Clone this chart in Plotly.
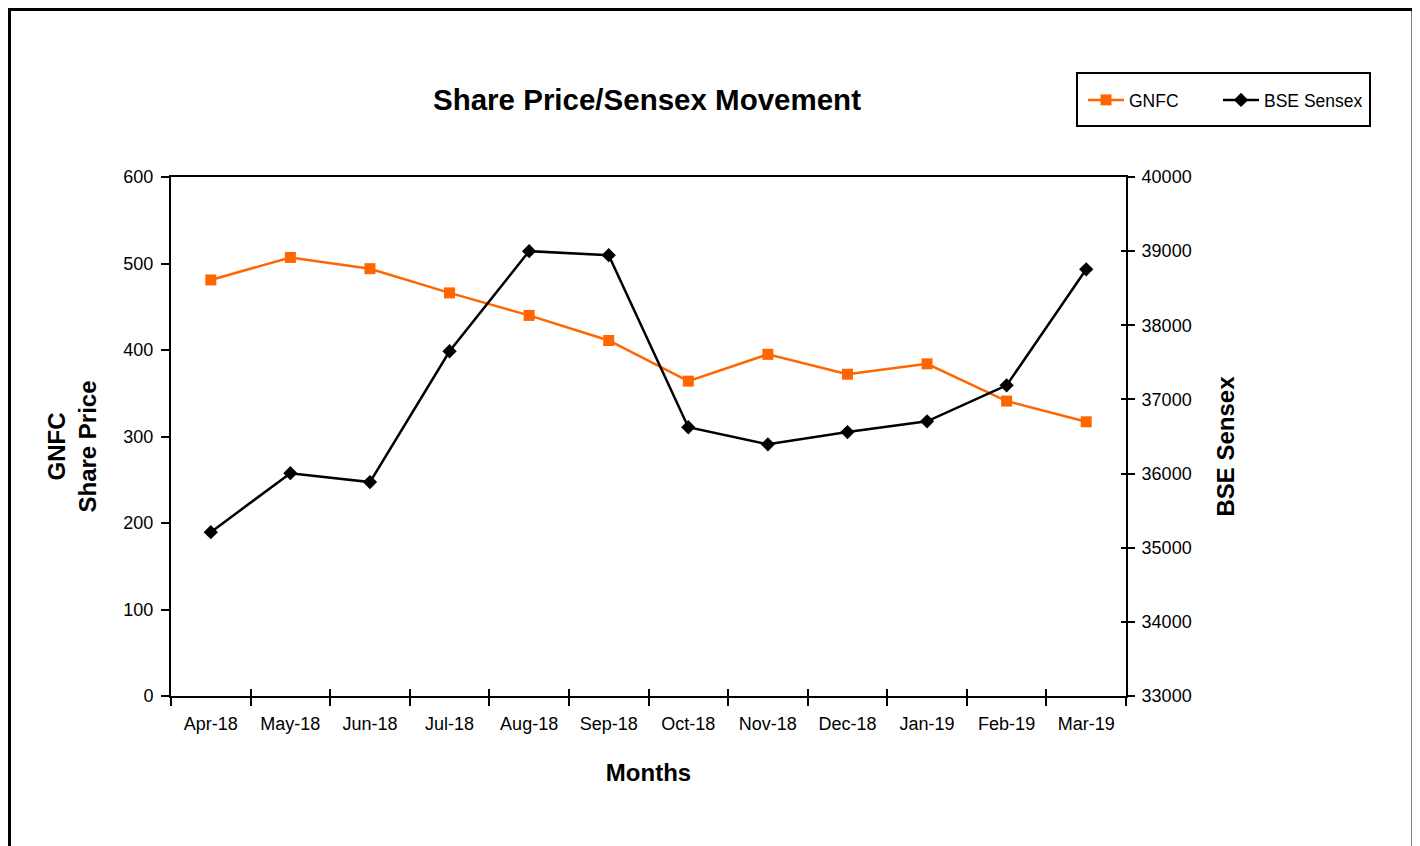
import plotly.graph_objects as go

months = ["Apr-18", "May-18", "Jun-18", "Jul-18", "Aug-18", "Sep-18",
          "Oct-18", "Nov-18", "Dec-18", "Jan-19", "Feb-19", "Mar-19"]
gnfc = [481, 507, 494, 466, 440, 411, 364, 395, 372, 384, 341, 317]
sensex = [35210, 36005, 35885, 37650, 39000, 38945, 36625, 36395, 36560, 36705, 37190, 38755]

OFF = 8  # page body margin
W, H = 1420 - OFF, 846 - OFF
L, R, T, B = 171, 1126, 177, 696  # plot area in window pixels


def px(x):
    return (x - L) / (R - L)


def py(y):
    return (B - y) / (B - T)


FONT = "Liberation Sans, Arial, sans-serif"
SP = "&nbsp;" * 3

fig = go.Figure()
fig.add_trace(go.Scatter(
    x=months, y=gnfc, name="GNFC", mode="lines+markers",
    line=dict(color="#FF6600", width=2.5),
    marker=dict(symbol="square", size=11, color="#FF6600"),
    xaxis="x", yaxis="y", legend="legend",
))
fig.add_trace(go.Scatter(
    x=months, y=sensex, name="BSE Sensex", mode="lines+markers",
    line=dict(color="#000000", width=2.5),
    marker=dict(symbol="diamond", size=11, color="#000000"),
    xaxis="x2", yaxis="y2", legend="legend2",
))
# carrier trace so the inside-tick overlay axis is drawn
fig.add_trace(go.Scatter(
    x=months, y=sensex, mode="markers", marker=dict(opacity=0, size=1),
    showlegend=False, hoverinfo="skip", xaxis="x2", yaxis="y3",
))

axfont = dict(family=FONT, size=18, color="#000")
titlefont = dict(family=FONT, size=24, color="#000")
legfont = dict(family=FONT, size=17.5, color="#000")

fig.update_layout(
    width=W, height=H,
    margin=dict(l=L - OFF, r=W - (R - OFF), t=T - OFF, b=H - (B - OFF)),
    paper_bgcolor="white", plot_bgcolor="white",
    showlegend=True,
    title=dict(text="<b>Share Price/Sensex Movement</b>", x=(647 - OFF) / W, xanchor="center",
               y=1 - (100 - OFF) / H, yanchor="middle",
               font=dict(family=FONT, size=29.5, color="#000")),
    xaxis=dict(
        type="category", categoryorder="array", categoryarray=months,
        range=[-0.5, 11.5], tickson="boundaries", ticks="outside", ticklen=8,
        tickwidth=1.5, tickcolor="#000", showline=True, linecolor="#000", linewidth=2,
        showgrid=False, zeroline=False, tickfont=axfont, mirror=True,
        ticklabelstandoff=10,
        title=dict(text="<b>Months</b>", font=titlefont, standoff=32),
    ),
    xaxis2=dict(
        type="category", categoryorder="array", categoryarray=months,
        range=[-0.5, 11.5], tickson="boundaries", ticks="inside", ticklen=7,
        tickwidth=1.5, tickcolor="#000", showline=False, showgrid=False,
        zeroline=False, showticklabels=False, overlaying="x", anchor="y2", side="bottom",
    ),
    yaxis=dict(
        range=[0, 600], tickvals=[0, 100, 200, 300, 400, 500, 600],
        ticks="outside", ticklen=8, tickwidth=1.5, tickcolor="#000",
        showline=True, linecolor="#000", linewidth=2, showgrid=False, zeroline=False,
        tickfont=axfont, mirror=True, ticklabelstandoff=4,
        title=dict(text=f"<b>GNFC{SP}<br>Share Price{SP}</b>", font=titlefont, standoff=20),
    ),
    yaxis2=dict(
        range=[33000, 40000], tickvals=list(range(33000, 40001, 1000)), tickformat="d",
        overlaying="y", side="right", anchor="x2",
        ticks="outside", ticklen=7, tickwidth=1.5, tickcolor="#000",
        showline=True, linecolor="#000", linewidth=2, showgrid=False, zeroline=False,
        tickfont=axfont, ticklabelstandoff=3,
        title=dict(text=f"<b>BSE Sensex{SP}</b>", font=titlefont, standoff=27),
    ),
    yaxis3=dict(
        range=[33000, 40000], tickvals=list(range(33000, 40001, 1000)),
        overlaying="y", side="right", anchor="x2",
        ticks="inside", ticklen=5, tickwidth=1.5, tickcolor="#000",
        showline=False, showgrid=False, zeroline=False, showticklabels=False,
    ),
    legend=dict(
        orientation="h", x=px(1083), xanchor="left", y=py(100), yanchor="middle",
        font=legfont, bgcolor="rgba(0,0,0,0)", borderwidth=0, itemwidth=36,
    ),
    legend2=dict(
        orientation="h", x=px(1218), xanchor="left", y=py(100), yanchor="middle",
        font=legfont, bgcolor="rgba(0,0,0,0)", borderwidth=0, itemwidth=36,
    ),
    shapes=[
        dict(type="rect", xref="paper", yref="paper",
             x0=px(1077), x1=px(1370), y0=py(126), y1=py(73),
             line=dict(color="#000", width=2), fillcolor="rgba(0,0,0,0)", layer="above"),
        dict(type="rect", xref="paper", yref="paper",
             x0=px(OFF + 1.5), x1=px(1413), y0=py(870), y1=py(OFF + 1.5),
             line=dict(color="#000", width=3), fillcolor="rgba(0,0,0,0)", layer="above"),
    ],
)

fig.write_html("out.html")
